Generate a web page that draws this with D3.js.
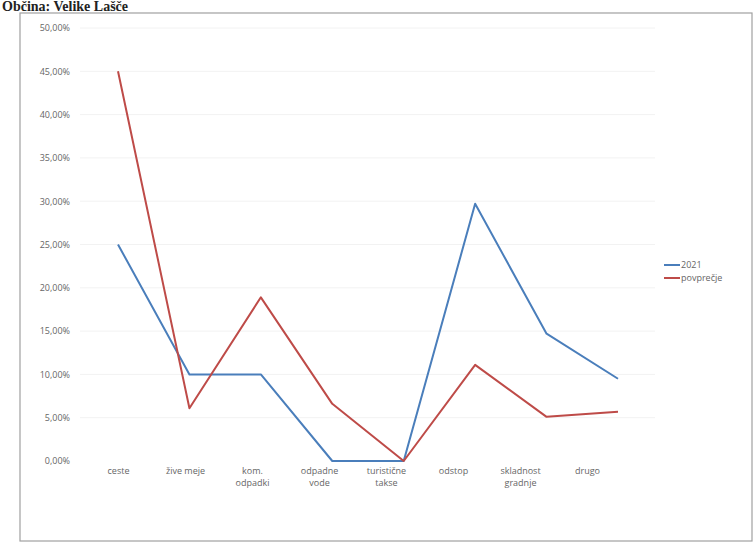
<!DOCTYPE html>
<html><head><meta charset="utf-8">
<script src="https://cdn.jsdelivr.net/npm/d3@7/dist/d3.min.js"></script>
<style>html,body{margin:0;padding:0;background:#fff;overflow:hidden}</style>
</head><body>
<script>
const categories = [["ceste"],["žive meje"],["kom.","odpadki"],["odpadne","vode"],["turistične","takse"],["odstop"],["skladnost","gradnje"],["drugo"]];
const seriesNames = ["2021","povprečje"];
const values2021 = [25.0, 10.0, 10.0, 0.0, 0.0, 29.7, 14.7, 9.5];
const valuesAvg = [45.0, 6.1, 18.9, 6.6, 0.0, 11.1, 5.1, 5.7];
const yTicks = [0,5,10,15,20,25,30,35,40,45,50];
const title = "Občina: Velike Lašče";

const W = 753, H = 549;
const colors = ["#4a7ebb", "#be4b48"];
const svg = d3.select("body").append("svg").attr("width", W).attr("height", H);

// frame
svg.append("rect").attr("x", 20).attr("y", 13).attr("width", 732).attr("height", 528)
  .attr("fill", "none").attr("stroke", "#a0a0a0").attr("stroke-width", 1.2);

// title (kept fully visible above the frame)
svg.append("text").attr("x", 2).attr("y", 11).text(title)
  .attr("font-family", "Liberation Serif").attr("font-weight", "bold")
  .attr("font-size", 14).attr("fill", "#222");

const idx = d3.range(categories.length);
const x = d3.scalePoint().domain(idx).range([118, 618]);
const xLab = d3.scalePoint().domain(idx).range([118, 587]);
const y = d3.scaleLinear().domain([0, 50]).range([461, 28]);

// faint gridlines
svg.append("g").selectAll("line").data(yTicks.slice(1)).join("line")
  .attr("x1", 80).attr("x2", 655).attr("y1", d => y(d)).attr("y2", d => y(d))
  .attr("stroke", "#f2f2f2").attr("stroke-width", 1);

// y axis
const yAxis = d3.axisLeft(y).tickValues(yTicks).tickSize(0).tickPadding(0)
  .tickFormat(d => d.toFixed(2).replace(".", ",") + "%");
const gy = svg.append("g").attr("transform", "translate(70,0)").call(yAxis);
gy.select(".domain").remove();
gy.selectAll("text").attr("font-family", "Open Sans").attr("font-size", 9).attr("fill", "#666");

// x axis labels
const xAxis = d3.axisBottom(xLab).tickSize(0).tickPadding(0).tickFormat(() => "");
const gx = svg.append("g").attr("transform", "translate(0,465)").call(xAxis);
gx.select(".domain").remove();
gx.selectAll(".tick").each(function(d) {
  const t = d3.select(this).append("text").attr("text-anchor", "middle")
    .attr("font-family", "Open Sans").attr("font-size", 9).attr("fill", "#666");
  categories[d].forEach((line, i) => {
    t.append("tspan").attr("x", 0).attr("y", 9 + i * 12).text(line);
  });
});

// lines
const line = d3.line().x((d, i) => x(i)).y(d => y(d));
[values2021, valuesAvg].forEach((vals, s) => {
  svg.append("path").datum(vals).attr("d", line).attr("fill", "none")
    .attr("stroke", colors[s]).attr("stroke-width", 2).attr("stroke-linejoin", "round");
});

// legend
const lg = svg.append("g").attr("transform", "translate(664,265)");
seriesNames.forEach((n, i) => {
  const g = lg.append("g").attr("transform", `translate(0,${i * 13})`);
  g.append("line").attr("x1", 0).attr("x2", 16).attr("y1", 0).attr("y2", 0)
    .attr("stroke", colors[i]).attr("stroke-width", 2);
  g.append("text").attr("x", 17).attr("y", 3).text(n)
    .attr("font-family", "Open Sans").attr("font-size", 9).attr("fill", "#666");
});
</script>
</body></html>
